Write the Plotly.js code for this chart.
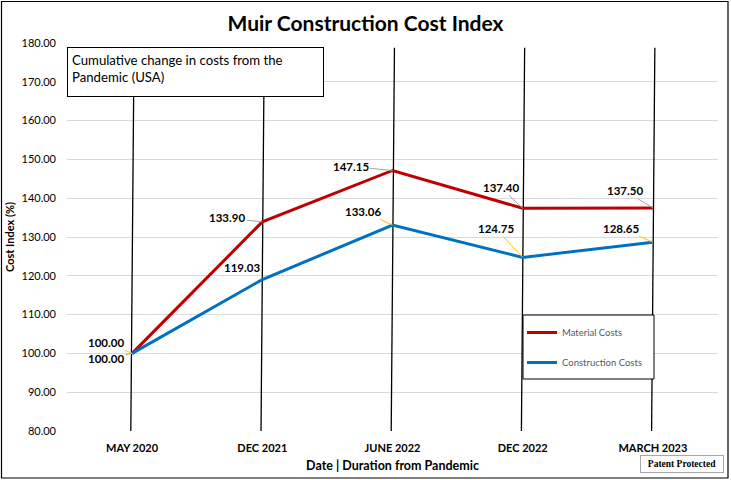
<!DOCTYPE html>
<html>
<head>
<meta charset="utf-8">
<script src="https://cdn.plot.ly/plotly-3.0.1.min.js"></script>
<style>
  html, body { margin: 0; padding: 0; background: #ffffff; }
  #chart { width: 731px; height: 480px; }
</style>
</head>
<body>
<div id="chart"></div>
<script>
// ---- Data ----
const categories = ["MAY 2020", "DEC 2021", "JUNE 2022", "DEC 2022", "MARCH 2023"];
const materialCosts = [100.00, 133.90, 147.15, 137.40, 137.50];
const constructionCosts = [100.00, 119.03, 133.06, 124.75, 128.65];
const seriesNames = ["Material Costs", "Construction Costs"];
const yTickValues = [80, 90, 100, 110, 120, 130, 140, 150, 160, 170, 180];

// ---- Styling / layout constants ----
const W = 731, H = 480;
const M = { l: 67, r: 13, t: 43, b: 49 };
const PW = W - M.l - M.r, PH = H - M.t - M.b;
const px2x = px => (px - M.l) / PW;
const px2y = py => (H - M.b - py) / PH;
const RED = "#C00000", BLUE = "#0070C0";
const FONT = "Lato, 'Open Sans', sans-serif";

// data label offsets (pixels from point to label centre) and leader colours
const matLabelOffsets = [[-26, 5], [-35, -4], [-42, -4], [-22, -21], [-28, -17]];
const conLabelOffsets = [[-26, -11], [-20, -12], [-30, -14], [-27, -29], [-32, -14]];
const matLeader = "#A6A6A6";
const conLeader = "#FFC000";

const traces = [
  { x: categories, y: materialCosts, name: seriesNames[0], type: "scatter", mode: "lines",
    line: { color: RED, width: 3 }, legendgroup: "a", hoverinfo: "x+y" },
  { x: categories, y: constructionCosts, name: seriesNames[1], type: "scatter", mode: "lines",
    line: { color: BLUE, width: 3 }, legendgroup: "b", hoverinfo: "x+y" }
];

const annotations = [];
function addLabels(vals, offs, leader, hideIdx) {
  vals.forEach((v, i) => {
    annotations.push({
      x: i, y: v, xref: "x", yref: "y",
      text: v.toFixed(2), showarrow: true, arrowhead: 0, arrowwidth: 1,
      arrowcolor: (hideIdx.indexOf(i) >= 0) ? "rgba(0,0,0,0)" : leader,
      standoff: 0, ax: offs[i][0], ay: offs[i][1],
      font: { family: FONT, size: 11.5, color: "#000000", weight: 700 }
    });
  });
}
addLabels(materialCosts, matLabelOffsets, matLeader, []);
addLabels(constructionCosts, conLabelOffsets, conLeader, [1]);

// Text box
annotations.push({
  xref: "paper", yref: "paper", x: px2x(67), y: px2y(46.5), xanchor: "left", yanchor: "top",
  text: "Cumulative change in costs from the<br>Pandemic (USA)", showarrow: false,
  align: "left", valign: "top", width: 247, height: 40, borderpad: 4,
  bgcolor: "#ffffff", bordercolor: "#000000", borderwidth: 1,
  font: { family: FONT, size: 13.2, color: "#000000" }
});
// Patent protected
annotations.push({
  xref: "paper", yref: "paper", x: px2x(681.5), y: px2y(464.5), xanchor: "center", yanchor: "middle",
  text: "Patent Protected", showarrow: false, width: 80, height: 14, borderpad: 1,
  bgcolor: "#ffffff", bordercolor: "#A6A6A6", borderwidth: 1,
  font: { family: "'Liberation Serif', 'DejaVu Serif', serif", size: 9.5, color: "#000000", weight: 700 }
});

const shapes = [];
// drop lines at each category
categories.forEach((c, i) => {
  shapes.push({ type: "line", xref: "x", yref: "y", x0: i - 0.01, x1: i + 0.015, y0: 80, y1: 178.8,
    line: { color: "#000000", width: 1.3 }, layer: "between" });
});
// hide top gridline
shapes.push({ type: "line", xref: "paper", yref: "y", x0: 0, x1: 1, y0: 180, y1: 180,
  line: { color: "#ffffff", width: 2 }, layer: "between" });
// legend box
shapes.push({ type: "rect", xref: "paper", yref: "paper",
  x0: px2x(523), x1: px2x(654), y0: px2y(379), y1: px2y(315),
  fillcolor: "#ffffff", line: { color: "#000000", width: 1 }, layer: "above" });
// outer chart border
shapes.push({ type: "rect", xref: "paper", yref: "paper",
  x0: px2x(1.5), x1: px2x(728), y0: px2y(478), y1: px2y(1.5),
  line: { color: "#000000", width: 1.2 }, layer: "above" });

const layout = {
  width: W, height: H,
  margin: M,
  paper_bgcolor: "#ffffff", plot_bgcolor: "#ffffff",
  title: {
    text: "Muir Construction Cost Index",
    x: 0.5, xref: "container", xanchor: "center",
    y: 1 - 24 / H, yref: "container", yanchor: "middle",
    font: { family: FONT, size: 21, color: "#000000", weight: 700 }
  },
  xaxis: {
    type: "category", range: [-0.5, categories.length - 0.5],
    showgrid: false, zeroline: false, showline: false, ticks: "",
    ticklabelstandoff: 9,
    tickfont: { family: FONT, size: 11, color: "#000000", weight: 700 },
    title: { text: "Date | Duration from Pandemic", standoff: 8,
      font: { family: FONT, size: 12.5, color: "#000000", weight: 700 } }
  },
  yaxis: {
    range: [80, 180], tickvals: yTickValues, tickformat: ".2f",
    showgrid: true, gridcolor: "#D9D9D9", gridwidth: 1,
    zeroline: false, showline: false, ticks: "",
    ticklabelstandoff: 10,
    tickfont: { family: FONT, size: 11, color: "#000000" },
    title: { text: "Cost Index (%)", standoff: 4,
      font: { family: FONT, size: 11, color: "#000000", weight: 700 } }
  },
  showlegend: true,
  legend: {
    x: px2x(522), y: px2y(318), xanchor: "left", yanchor: "top",
    bgcolor: "rgba(0,0,0,0)", borderwidth: 0,
    traceorder: "grouped", tracegroupgap: 11,
    font: { family: FONT, size: 9.5, color: "#595959" }
  },
  annotations: annotations,
  shapes: shapes,
  hovermode: false
};

Plotly.newPlot("chart", traces, layout, { displayModeBar: false, staticPlot: true });
</script>
</body>
</html>
